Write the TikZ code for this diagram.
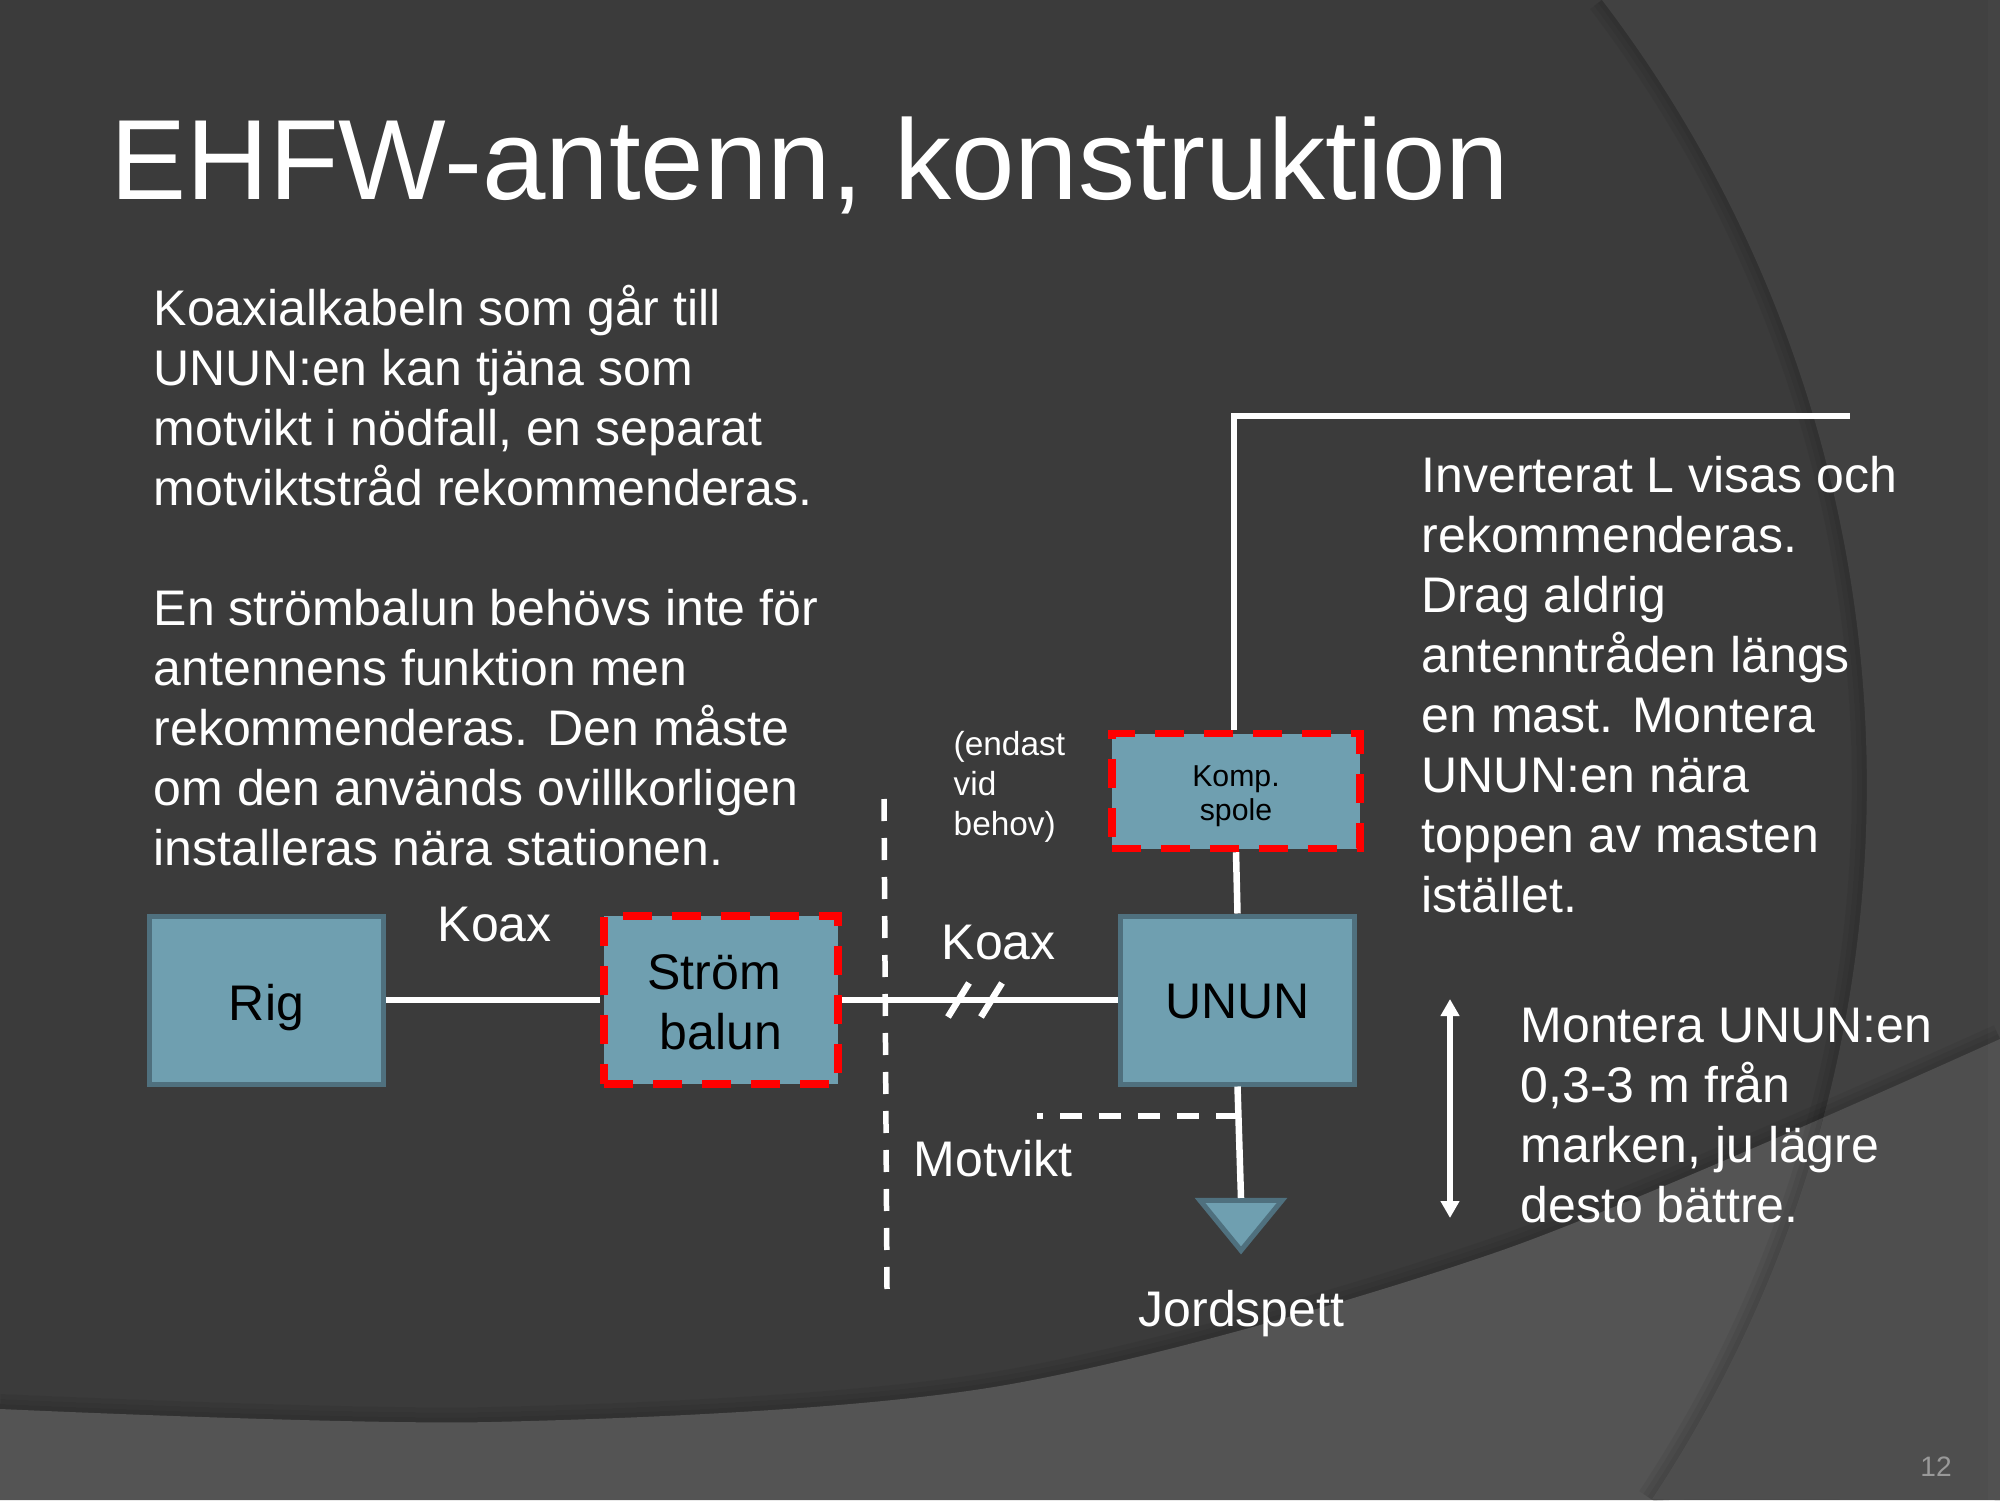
\documentclass[tikz,border=0pt]{standalone}
\usepackage{fontspec}
\setmainfont{Liberation Sans}
\usetikzlibrary{arrows.meta, positioning, shapes.geometric}
\definecolor{bgdark}{HTML}{3B3B3B}
\definecolor{bgright}{HTML}{414141}
\definecolor{bgband}{HTML}{545454}
\definecolor{bgbandright}{HTML}{4E4E4E}
\definecolor{unitfill}{HTML}{6F9FB0}
\definecolor{unitline}{HTML}{4F707E}
\newcommand{\bandcurve}{plot[smooth] coordinates {(0,.91) (4.91,.78) (10,1.14) (15,2.49) (20,4.61)}}
\newcommand{\archcurve}{(16.02,15) arc[start angle=37.3, end angle=-33.5, radius=12.95]}
\begin{document}
\begin{tikzpicture}[
  unit/.style={rectangle, draw=unitline, line width=.05cm, fill=unitfill, align=center,
               text=black, font=\fontsize{14.23}{17.07}\selectfont},
  optunit/.style={unit, draw=red, line width=.075cm, dash pattern=on .29cm off .2cm},
  wire/.style={white, line width=.065cm},
  dashwire/.style={white, line width=.055cm, dash pattern=on .22cm off .17cm},
  lbl/.style={text=white, inner sep=0pt, align=left, anchor=north west,
              font=\fontsize{14.23}{17.07}\selectfont},
  smalllbl/.style={text=white, inner sep=0pt, align=left, anchor=north west,
              font=\fontsize{9.5}{11.38}\selectfont}
]
  \useasboundingbox (0,0) rectangle (20,15);
  % background
  \fill[bgdark] (0,0) rectangle (20,15);
  \foreach \w in {.1,.2,.3} \draw[black, opacity=.05, line width=\w cm] \bandcurve;
  \fill[bgband] \bandcurve -- (20,0) -- (0,0) -- cycle;
  \foreach \w in {.1,.2,.3} \draw[black, opacity=.05, line width=\w cm] \archcurve;
  \begin{scope}
    \clip \archcurve -- (20,0) -- (20,15) -- cycle;
    \fill[bgright] (0,0) rectangle (20,15);
    \foreach \w in {.1,.2,.3} \draw[black, opacity=.05, line width=\w cm] \bandcurve;
    \fill[bgbandright] \bandcurve -- (20,0) -- (0,0) -- cycle;
    \fill[white, opacity=.02] (19.88,0) rectangle (20,15);
  \end{scope}

  \node[lbl, font=\fontsize{32.45}{37}\selectfont] (title) at (1.10,13.84) {EHFW-antenn, konstruktion};
  \node[lbl] (coaxtext) at (1.53,12.16) {Koaxialkabeln som går till\\UNUN:en kan tjäna som\\motvikt i nödfall, en separat\\motviktstråd rekommenderas.};
  \node[lbl] (baluntext) at (1.53,9.115) {En strömbalun behövs inte för\\antennens funktion men\\rekommenderas. Den måste\\om den används ovillkorligen\\installeras nära stationen.};
  \node[lbl] (invltext) at (14.21,10.44) {Inverterat L visas och\\rekommenderas.\\Drag aldrig\\antenntråden längs\\en mast. Montera\\UNUN:en nära\\toppen av masten\\istället.};
  \node[lbl] (heighttext) at (15.2,4.93) {Montera UNUN:en\\0,3-3 m från\\marken, ju lägre\\desto bättre.};

  \node[unit, minimum width=2.34cm, minimum height=1.68cm] (rig) at (2.665,5) {\rule{0pt}{.51cm}Rig};
  \node[optunit, minimum width=2.34cm, minimum height=1.68cm] (balun) at (7.21,5) {\rule{0pt}{.39cm}Ström\hspace*{.14cm}\\balun};
  \node[unit, minimum width=2.34cm, minimum height=1.68cm] (unun) at (12.375,5) {\rule{0pt}{.38cm}UNUN};
  \node[optunit, minimum width=2.48cm, minimum height=1.15cm, font=\fontsize{8.6}{9.8}\selectfont] (komp) at (12.36,7.09) {\rule{0pt}{.316cm}Komp.\\spole};
  \node[unit, isosceles triangle, shape border rotate=-90,
        isosceles triangle stretches, minimum width=.82cm, minimum height=.5cm, inner sep=0pt,
        anchor=apex] (jord) at (12.41,2.43) {};

  \node[lbl] (koaxa) at (4.37,5.94) {Koax};
  \node[lbl] (koaxb) at (9.41,5.76) {Koax};
  \node[lbl] (motvikt) at (9.13,3.6) {Motvikt};
  \node[lbl] (jordlbl) at (11.38,2.1) {Jordspett};
  \node[smalllbl] (behov) at (9.53,7.69) {(endast\\vid\\behov)};
  \node[text=gray!80, inner sep=0pt, font=\fontsize{8}{9}\selectfont] (pagenr) at (19.36,.33) {12};

  \coordinate (wireend) at (18.5,10.84);
  \coordinate (sepa) at (8.84,7.01);
  \coordinate (sepb) at (8.87,2.11);
  \coordinate (motvend) at (10.37,3.84);
  \coordinate (heighta) at (14.5,5.01);
  \coordinate (heightb) at (14.5,2.82);
  \coordinate (slasha) at (9.48,4.83);
  \coordinate (slashb) at (9.69,5.17);
  \coordinate (slashc) at (9.81,4.83);
  \coordinate (slashd) at (10.02,5.17);

  \draw[wire] (rig.east) -- (balun.west);
  \draw[wire] (balun.east) -- (unun.west);
  \draw[wire] (slasha) -- (slashb);
  \draw[wire] (slashc) -- (slashd);
  \draw[wire, line join=miter] ([xshift=-.02cm]komp.north) |- (wireend);
  \draw[wire] (komp.south) -- (unun.north);
  \draw[wire] (unun.south) -- (jord.lower side);
  \draw[dashwire] (motvend -| unun.south) -- (motvend);
  \draw[dashwire] (sepa) -- (sepb);
  \draw[wire, {Triangle[width=.18cm,length=.17cm]}-{Triangle[width=.18cm,length=.17cm]}] (heighta) -- (heightb);
\end{tikzpicture}
\end{document}
